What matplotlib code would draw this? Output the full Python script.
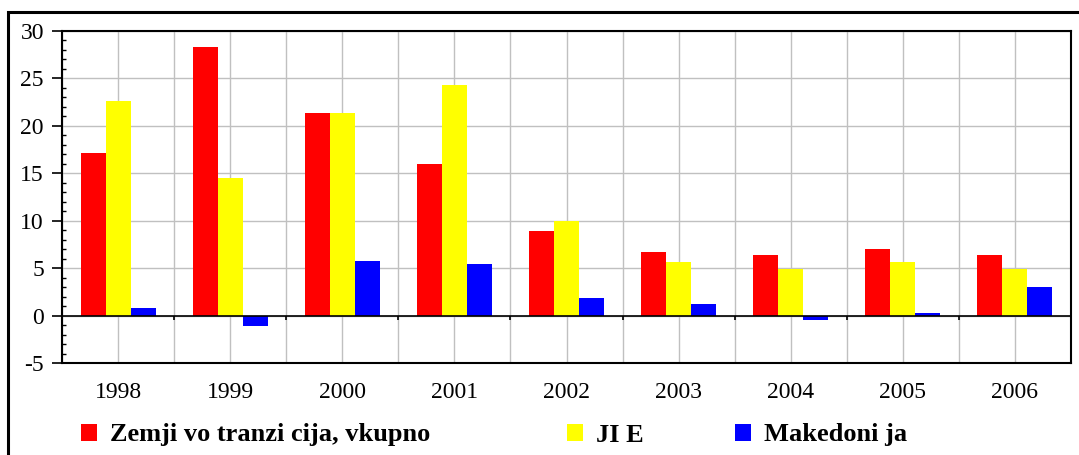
import numpy as np
import matplotlib.pyplot as plt
from matplotlib.patches import Rectangle
from matplotlib.ticker import MultipleLocator

years = ['1998', '1999', '2000', '2001', '2002', '2003', '2004', '2005', '2006']
tranzicija = [17.1, 28.35, 21.4, 16.0, 8.95, 6.65, 6.4, 7.05, 6.4]
jie = [22.65, 14.5, 21.4, 24.3, 10.0, 5.6, 4.95, 5.6, 4.95]
makedonija = [0.85, -1.15, 5.8, 5.4, 1.9, 1.25, -0.5, 0.3, 3.05]
series_names = ['Zemji vo tranzi cija, vkupno', 'JI E', 'Makedoni ja']
series_colors = ['#ff0000', '#ffff00', '#0000ff']

plt.rcParams['font.family'] = ['Liberation Serif', 'DejaVu Serif']
plt.rcParams['axes.unicode_minus'] = False

fig = plt.figure(figsize=(10.79, 4.55), dpi=100)
ax = fig.add_axes([62 / 1079, 1 - 363 / 455, (1071 - 62) / 1079, (363 - 31) / 455])

# outer chart frame (runs past the right/bottom of the image)
fig.patches.append(Rectangle((8 / 1079, -0.2), 1.1, 1.2 - 12 / 455,
                             transform=fig.transFigure, fill=False,
                             edgecolor='black', linewidth=2.2, clip_on=False))

x = np.arange(len(years))
w = 0.223
bars = []
for i, (vals, name, col) in enumerate(zip([tranzicija, jie, makedonija], series_names, series_colors)):
    bars.append(ax.bar(x + (i - 1) * w, vals, w, color=col, label=name, zorder=3))

ax.set_xlim(-0.5, len(years) - 0.5)
ax.set_ylim(-5, 30)
ax.set_axisbelow(True)

ax.yaxis.set_major_locator(MultipleLocator(5))
ax.yaxis.set_minor_locator(MultipleLocator(1))
ax.tick_params(axis='y', which='major', direction='out', length=7, width=1.2,
               labelsize=17, pad=6)
ax.tick_params(axis='y', which='minor', direction='in', length=3, width=1)
ax.grid(axis='y', which='major', color='#c0c0c0', linewidth=1)

ax.set_xticks(x)
ax.set_xticklabels(years)
ax.set_xticks(np.arange(len(years) + 1) - 0.5, minor=True)
ax.tick_params(axis='x', which='both', length=0, labelsize=17, pad=14)
ax.grid(axis='x', which='both', color='#c0c0c0', linewidth=1)

# zero line with small category ticks
ax.axhline(0, color='black', linewidth=1.2, zorder=4)
ax.vlines(np.arange(1, len(years)) - 0.5, -0.5, 0, color='black', linewidth=1.2, zorder=4)

for s in ax.spines.values():
    s.set_color('black')
    s.set_linewidth(1.5)

# legend entries placed one by one, like the original layout
legend_x = [81, 567, 735]
for b, name, lx in zip(bars, series_names, legend_x):
    fig.legend([b], [name], loc='center left', bbox_to_anchor=(lx / 1079, 1 - 435 / 455),
               frameon=False, prop={'weight': 'bold', 'size': 19},
               handlelength=0.6, handleheight=0.6, handletextpad=0.5,
               borderpad=0, borderaxespad=0)

fig.savefig('out.png', dpi=100)
